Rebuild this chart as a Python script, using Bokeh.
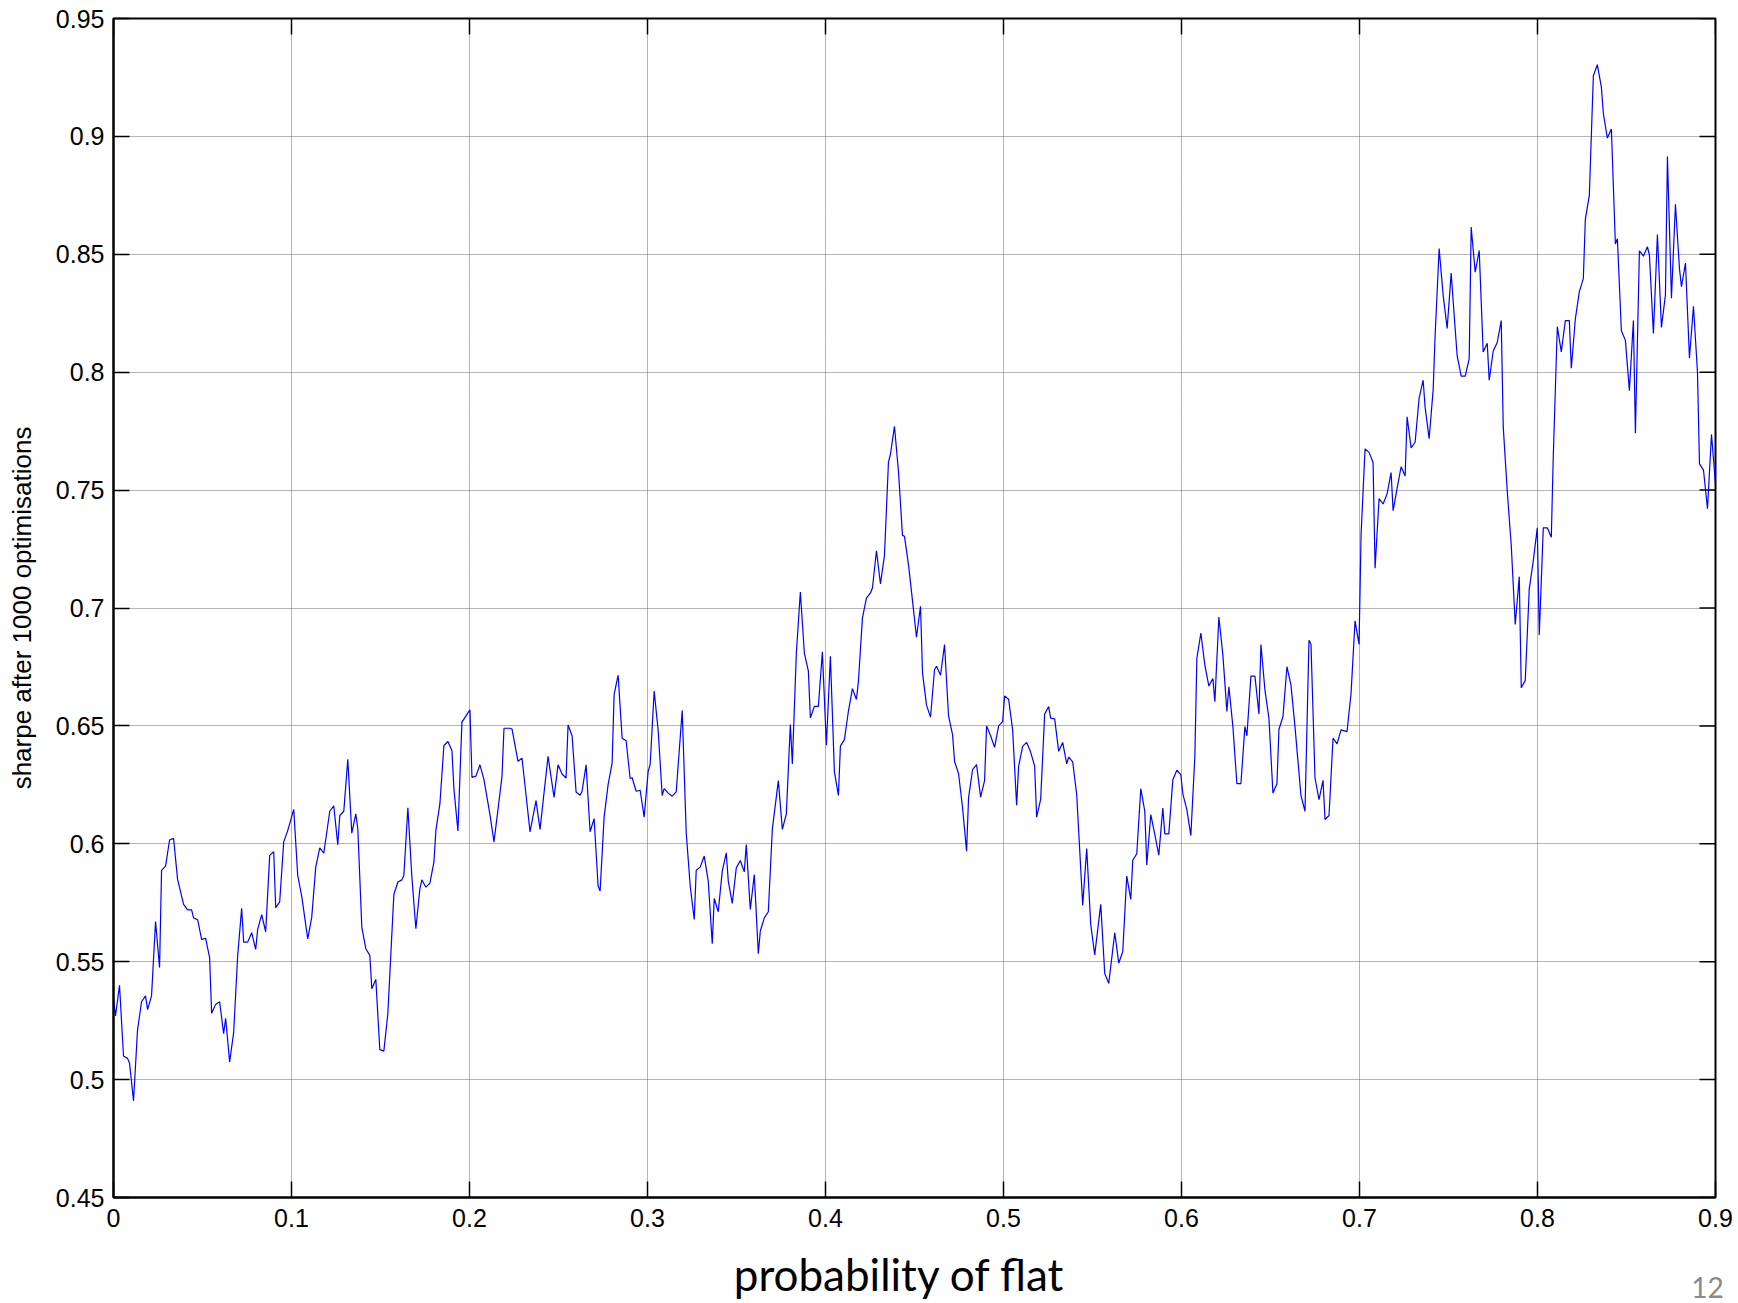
import numpy as np
from bokeh.plotting import figure
from bokeh.layouts import column
from bokeh.models import Range1d, FixedTicker, NumeralTickFormatter
from bokeh.core.properties import value
from bokeh.embed import file_html
from bokeh.resources import INLINE

# sample index along x: probability of flat = index * step
step = 0.9 / 800

idx_a = [0, 1, 3, 5, 7, 8, 10, 12, 14, 16, 17, 19, 21, 23, 24, 26, 28, 30, 32, 35, 37, 39, 40, 42, 44,
         46, 48, 49, 51, 53, 55, 56, 58, 60, 62, 64, 65, 67, 69, 71, 72, 74, 76, 78, 80, 81, 83, 85, 87]
sharpe_a = [.534, .527, .540, .510, .509, .507, .491, .521, .533, .5355, .5297, .5355, .567, .5475, .5887,
            .5905, .6016, .6023, .5849, .5743, .572, .572, .5686, .5678, .5595, .5599, .5517, .5281, .5319,
            .533, .5195, .526, .5075, .5199, .5524, .5726, .5583, .5583, .5623, .5552, .5637, .570, .5627,
            .5951, .5966, .5729, .5754, .6008, .6056]

idx_b = [90, 92, 94, 97, 99, 101, 103, 105, 108, 110, 112, 113, 115, 117, 119, 121, 122, 124, 126, 128,
         129, 131, 133, 135, 137, 140, 142, 144, 145, 147, 149, 151, 153, 154, 156, 158, 160, 161, 163, 165,
         167, 169, 170, 172, 174, 178]
sharpe_b = [.6146, .5866, .5777, .5597, .5689, .5901, .5983, .596, .6138, .6161, .5996, .612, .6138, .6358,
            .6045, .6127, .6064, .5647, .5555, .5527, .5385, .5425, .5127, .5121, .5279, .5785, .5838, .5847,
            .5866, .6153, .5859, .564, .5809, .5847, .5816, .5833, .5922, .6057, .617, .6417, .6434, .6396,
            .6233, .6054, .6516, .6568]

idx_c = [179, 181, 183, 185, 188, 190, 192, 194, 195, 198, 199, 202, 204, 206, 208, 211, 213, 217, 220, 222,
         224, 226, 227, 229, 231, 233, 234, 236, 238, 240, 242, 243, 245, 247, 249, 250, 252, 254, 256, 258,
         259, 261, 263, 265, 267, 268, 270]
sharpe_c = [.6282, .6287, .6335, .6272, .6124, .6008, .6145, .6286, .649, .649, .6487, .635, .6363, .6208,
            .6051, .6183, .6061, .6371, .6197, .6335, .6296, .6279, .6504, .6458, .622, .6206, .6223, .6335,
            .6051, .6107, .5821, .58, .6113, .6251, .6342, .6634, .6715, .6448, .6437, .6277, .628, .6223,
            .6227, .6113, .6307, .6338, .6648]

idx_d = [272, 274, 275, 277, 279, 281, 284, 286, 288, 290, 291, 293, 295, 297, 299, 300, 302, 304, 306, 307,
         309, 311, 313, 315, 316, 318, 320, 322, 323, 325, 327, 329, 332, 334, 336, 338, 339, 341, 343, 345,
         347, 348, 350, 352, 354, 356, 358]
sharpe_d = [.648, .6205, .6234, .6215, .6202, .622, .6565, .6047, .5821, .5679, .5888, .5901, .5948, .5842,
            .5576, .5768, .5712, .5884, .5962, .5842, .5747, .5898, .5929, .5881, .5997, .5722, .587, .5534,
            .563, .5686, .5712, .6061, .6268, .6061, .6127, .6506, .6339, .6809, .7068, .6809, .6732, .6534,
            .6583, .6583, .6814, .6418, .6795]

idx_e = [360, 362, 363, 365, 367, 369, 371, 372, 374, 376, 378, 379, 381, 383, 385, 387, 388, 390, 392, 394,
         395, 397, 399, 401, 403, 404, 406, 408, 410, 411, 413, 415, 417, 419, 420, 422, 424, 426, 427, 429,
         431, 433, 435, 436, 438, 440, 442, 444, 445, 447]
sharpe_e = [.6305, .6205, .6414, .6442, .6562, .6658, .6612, .6689, .6958, .7042, .7064, .7085, .7243, .7102,
            .7223, .7619, .7653, .777, .7579, .7308, .7304, .7184, .7031, .6876, .7007, .6725, .6588, .6537,
            .6739, .6753, .6715, .6845, .6542, .6463, .635, .6297, .6153, .5969, .6195, .6315, .6336, .6198,
            .6268, .65, .6458, .6409, .65, .6518, .6627, .6613]

idx_f = [449, 451, 452, 454, 456, 458, 460, 461, 463, 465, 467, 468, 470, 472, 474, 476, 477, 479, 481, 484,
         486, 488, 490, 493, 495, 497, 500, 502, 504, 506, 508, 509, 511, 513, 515, 516, 518, 520, 522, 524,
         525, 527, 529, 531, 533, 534, 536]
sharpe_f = [.6484, .6164, .6329, .6413, .643, .6389, .6329, .6113, .6188, .655, .6582, .6533, .653, .6392,
            .643, .6339, .6368, .6347, .6209, .5739, .598, .5659, .5529, .5743, .545, .5408, .5623, .5494,
            .5543, .5863, .5764, .593, .5958, .6234, .6138, .591, .6124, .604, .5952, .6152, .6042, .6042,
            .6272, .6312, .6293, .6212, .6145]

idx_g = [538, 540, 541, 543, 545, 547, 549, 550, 552, 554, 556, 557, 559, 561, 563, 565, 566, 568, 570, 572,
         573, 575, 577, 579, 581, 582, 584, 586, 588, 590, 593, 595, 597, 598, 600, 602, 604, 605, 607, 609,
         611, 613, 616, 618, 620, 622]
sharpe_g = [.6035, .637, .6786, .6894, .6758, .6669, .6701, .6603, .6962, .68, .6561, .6666, .6497, .6255,
            .6255, .6497, .6458, .6711, .6711, .6551, .6845, .6652, .6532, .6215, .6255, .6486, .6539, .6751,
            .6673, .6497, .6204, .6138, .6863, .6846, .6279, .6187, .6269, .6103, .612, .6448, .6424, .6483,
            .6476, .6638, .6945, .6846]

idx_h = [623, 625, 627, 629, 630, 632, 634, 636, 638, 639, 641, 643, 645, 646, 648, 650, 652, 654, 655, 657,
         659, 660, 662, 664, 666, 668, 670, 671, 673, 675, 677, 678, 680, 682, 684, 686, 687, 689, 691, 693,
         694, 696, 698, 700, 702, 703, 705, 707, 709]
sharpe_h = [.731, .7675, .766, .7617, .7169, .7464, .7441, .7484, .7574, .7413, .7507, .7599, .756, .7811,
            .7679, .7703, .789, .7966, .7851, .7718, .7925, .8158, .8524, .8327, .8186, .842, .8183, .8069,
            .7983, .7983, .8057, .8616, .8424, .8516, .8086, .8123, .7966, .809, .8126, .8219, .7768, .7496,
            .7266, .693, .7133, .6662, .6693, .7081, .72]

idx_i = [711, 712, 714, 716, 718, 719, 721, 723, 725, 727, 728, 730, 732, 734, 735, 737, 739, 741, 743, 744,
         746, 748, 750, 751, 753, 755, 757, 759, 760, 762, 764, 766, 767, 769, 771, 773, 775, 776, 778, 780,
         782, 783, 785, 787, 789, 791, 792, 794, 796, 798, 800]
sharpe_i = [.734, .6886, .734, .734, .73, .7646, .8193, .8086, .8219, .8219, .8017, .8225, .8342, .8397,
            .8648, .8751, .9257, .9304, .9209, .9097, .8993, .9031, .8544, .8566, .8176, .8135, .7922, .8219,
            .7741, .8515, .8492, .8532, .8497, .8164, .8584, .819, .8328, .8915, .8314, .8712, .844, .8363,
            .8463, .806, .828, .80, .7611, .7585, .7421, .7737, .7525]

x_ticks = [0, 0.1, 0.2, 0.3, 0.4, 0.5, 0.6, 0.7, 0.8, 0.9]
y_ticks = [0.45, 0.5, 0.55, 0.6, 0.65, 0.7, 0.75, 0.8, 0.85, 0.9, 0.95]
x_min, x_max = 0, 0.9
y_min, y_max = 0.45, 0.95

sample_idx = idx_a + idx_b + idx_c + idx_d + idx_e + idx_f + idx_g + idx_h + idx_i
sharpe = sharpe_a + sharpe_b + sharpe_c + sharpe_d + sharpe_e + sharpe_f + sharpe_g + sharpe_h + sharpe_i
prob_flat = [k * step for k in sample_idx]

p = figure(width=1738, height=1245, x_range=Range1d(x_min, x_max), y_range=Range1d(y_min, y_max),
           output_backend="svg", toolbar_location=None,
           min_border_left=113, min_border_right=23, min_border_top=18, min_border_bottom=48)
p.frame_align = False
p.background_fill_color = "white"
p.border_fill_color = "white"
p.outline_line_color = "black"
p.outline_line_width = 2

bottom_ax = p.below[0]
left_ax = p.left[0]
fmt = NumeralTickFormatter(format="0.[00]")
bottom_ax.ticker = FixedTicker(ticks=x_ticks)
left_ax.ticker = FixedTicker(ticks=y_ticks)
bottom_ax.formatter = fmt
left_ax.formatter = fmt

for ax in [bottom_ax, left_ax]:
    ax.axis_line_color = "black"
    ax.axis_line_width = 2
    ax.major_tick_in = 16
    ax.major_tick_out = 0
    ax.major_tick_line_color = "black"
    ax.major_tick_line_width = 1.5
    ax.minor_tick_line_color = None
    ax.major_label_text_font = "Liberation Sans"
    ax.major_label_text_font_size = "25px"
    ax.major_label_text_color = "black"
bottom_ax.major_label_standoff = 11
left_ax.major_label_standoff = 9

left_ax.axis_label = "sharpe after 1000 optimisations"
left_ax.axis_label_text_font = "Liberation Sans"
left_ax.axis_label_text_font_size = "26px"
left_ax.axis_label_text_font_style = "normal"
left_ax.axis_label_text_color = "black"
left_ax.axis_label_standoff = 16

p.xgrid.ticker = FixedTicker(ticks=x_ticks)
p.ygrid.ticker = FixedTicker(ticks=y_ticks)
for g in [p.xgrid[0], p.ygrid[0]]:
    g.grid_line_color = "#5a5a5a"
    g.grid_line_width = 1
    g.grid_line_dash = "1 1"
    g.grid_line_alpha = 0.9

# inward ticks on the top and right edges of the box (half of each dash is clipped by the frame)
p.scatter(x=x_ticks, y=[y_max] * len(x_ticks), marker="dash", size=32, angle=np.pi / 2,
          line_color="black", line_width=1.5)
p.scatter(x=[x_max] * len(y_ticks), y=y_ticks, marker="dash", size=32,
          line_color="black", line_width=1.5)

p.line(prob_flat, sharpe, line_color="#0000ff", line_width=1.2)

# strip below the chart carrying the slide's x label and page number
p2 = figure(frame_width=1738, frame_height=58, x_range=Range1d(0, 1738), y_range=Range1d(0, 58),
            output_backend="svg", toolbar_location=None, x_axis_location=None, y_axis_location=None,
            min_border=0, min_border_left=0, min_border_right=0, min_border_top=0, min_border_bottom=0)
p2.frame_align = False
p2.outline_line_color = None
p2.xgrid.visible = False
p2.ygrid.visible = False
p2.text(x=[899], y=[13], text=["probability of flat"], text_font=value("Lato"), y_offset=-17,
        text_font_size="44px", text_align="center", text_baseline="alphabetic", text_color="black")
p2.text(x=[1707], y=[6], text=["12"], text_font=value("Lato"), text_font_size="28px", y_offset=-10,
        text_align="center", text_baseline="alphabetic", text_color="#8a8a8a")

layout = column(p, p2, spacing=0)
open("out.html", "w").write(file_html(layout, INLINE))
